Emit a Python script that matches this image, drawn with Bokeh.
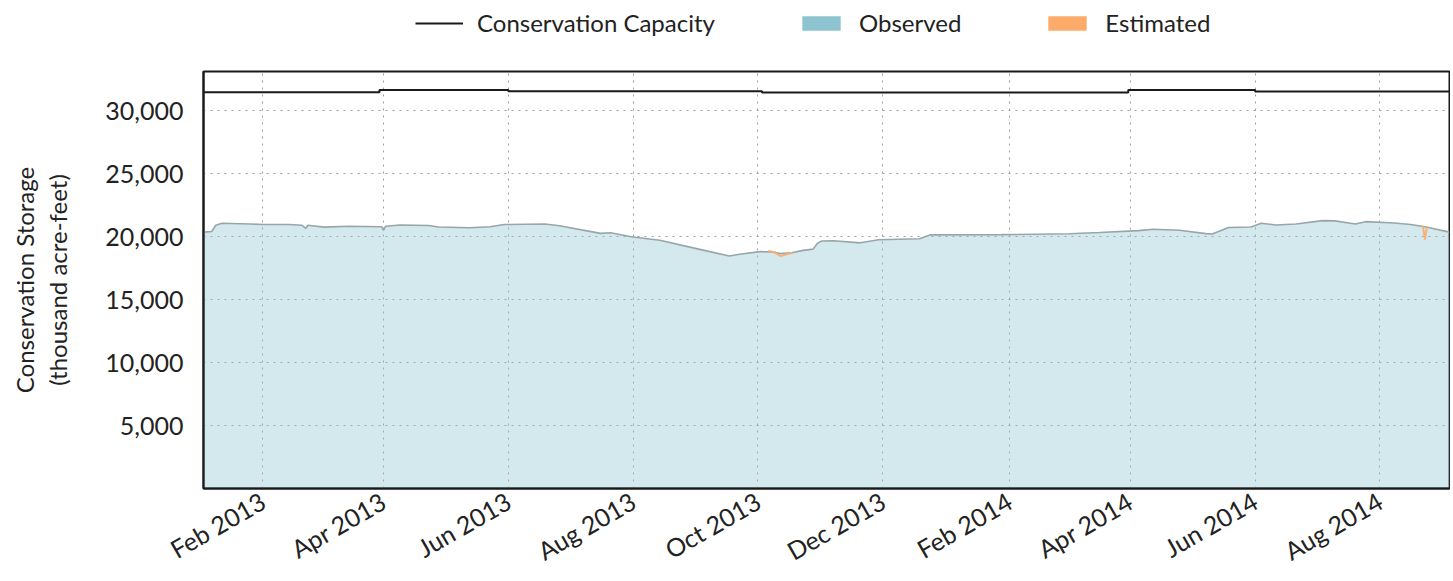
import pandas as pd
from bokeh.plotting import figure
from bokeh.layouts import column
from bokeh.models import (Range1d, FixedTicker, DatetimeTickFormatter, NumeralTickFormatter,
                          Legend, LegendItem, ColumnDataSource)
from bokeh.embed import file_html
from bokeh.resources import INLINE
from math import pi

# ---- data ----
obs_dates = ["2013-01-03", "2013-01-07", "2013-01-09", "2013-01-12", "2013-01-26", "2013-02-01",
             "2013-02-14", "2013-02-20", "2013-02-22", "2013-02-23", "2013-03-03", "2013-03-15",
             "2013-03-31", "2013-04-01", "2013-04-02", "2013-04-09", "2013-04-23", "2013-04-28",
             "2013-05-13", "2013-05-23", "2013-05-30", "2013-06-19", "2013-06-26", "2013-07-16",
             "2013-07-21", "2013-07-31", "2013-08-14", "2013-09-02", "2013-09-17", "2013-09-22",
             "2013-10-02", "2013-10-08", "2013-10-12", "2013-10-17", "2013-10-23", "2013-10-28",
             "2013-10-30", "2013-11-01", "2013-11-07", "2013-11-20", "2013-11-29", "2013-12-19",
             "2013-12-24", "2014-01-28", "2014-03-02", "2014-03-17", "2014-04-05", "2014-04-12",
             "2014-04-25", "2014-05-08", "2014-05-11", "2014-05-19", "2014-05-30", "2014-06-04",
             "2014-06-11", "2014-06-21", "2014-07-04", "2014-07-10", "2014-07-20", "2014-07-25",
             "2014-08-08", "2014-08-16", "2014-08-23", "2014-09-04"]
obs_values = [20350, 20400, 20900, 21050, 21000, 20950,
              20960, 20900, 20650, 20900, 20750, 20820,
              20780, 20500, 20820, 20920, 20880, 20760,
              20700, 20780, 20950, 21000, 20850, 20250,
              20300, 19980, 19700, 19000, 18450, 18600,
              18800, 18780, 18650, 18700, 18900, 19000,
              19450, 19640, 19660, 19500, 19740, 19830,
              20130, 20150, 20220, 20320, 20470, 20580,
              20500, 20230, 20200, 20720, 20760, 21050,
              20920, 21000, 21260, 21240, 21000, 21180,
              21080, 20950, 20780, 20350]

est_dates = ["2013-10-06", "2013-10-09", "2013-10-12", "2013-10-15", "2013-10-18",
             "2014-08-22", "2014-08-23", "2014-08-24"]
est_values = [18850, 18760, 18450, 18600, 18720,
              20850, 19750, 20800]
est_break_after = 4  # index after which the estimated series breaks

cap_dates = ["2013-01-03", "2013-03-30", "2013-06-01", "2013-10-03", "2014-03-31", "2014-06-01", "2014-09-04"]
cap_values = [31450, 31630, 31540, 31440, 31630, 31520, 31520]

x_tick_dates = ["2013-02-01", "2013-04-01", "2013-06-01", "2013-08-01", "2013-10-01", "2013-12-01",
                "2014-02-01", "2014-04-01", "2014-06-01", "2014-08-01"]
y_ticks = [5000, 10000, 15000, 20000, 25000, 30000]

x_start, x_end = "2013-01-03", "2014-09-04"
y_start, y_end = 0, 33100

y_label = "Conservation Storage\n(thousand acre-feet)"
legend_labels = ["Conservation Capacity", "Observed", "Estimated"]

FONT = "Lato"
CAP_COLOR, OBS_COLOR, EST_COLOR = "#1a1a1a", "#8ec4cf", "#fdab6b"

# ---- legend strip (separate figure above the chart) ----
lg = figure(width=1450, height=48, output_backend="svg", toolbar_location=None,
            x_axis_location=None, y_axis_location=None,
            x_range=Range1d(0, 1), y_range=Range1d(0, 1),
            min_border=0, outline_line_color=None)
lg.grid.visible = False
nan_src = ColumnDataSource(dict(x=[float("nan")], y=[float("nan")]))
r_cap = lg.line(x="x", y="y", source=nan_src, line_color=CAP_COLOR, line_width=2)
r_obs = lg.rect(x="x", y="y", width=1, height=1, source=nan_src, fill_color=OBS_COLOR, line_color=None)
r_est = lg.rect(x="x", y="y", width=1, height=1, source=nan_src, fill_color=EST_COLOR, line_color=None)
legend = Legend(items=[LegendItem(label=legend_labels[0], renderers=[r_cap]),
                       LegendItem(label=legend_labels[1], renderers=[r_obs]),
                       LegendItem(label=legend_labels[2], renderers=[r_est])],
                orientation="horizontal", location=(212, 11),
                glyph_width=48, glyph_height=18, label_standoff=14, spacing=82,
                padding=5, margin=0, border_line_color=None, background_fill_alpha=0,
                label_text_font=FONT, label_text_font_size="24px", label_text_color="#222222")
lg.add_layout(legend)

# ---- main chart ----
p = figure(width=1450, height=533, x_axis_type="datetime", output_backend="svg",
           toolbar_location=None,
           x_range=Range1d(pd.Timestamp(x_start), pd.Timestamp(x_end)),
           y_range=Range1d(y_start, y_end),
           min_border_left=203, min_border_right=1, min_border_top=23, min_border_bottom=89)

obs_src = ColumnDataSource(dict(x=pd.to_datetime(obs_dates), y=obs_values))
p.varea(x="x", y1=0, y2="y", source=obs_src, fill_color=OBS_COLOR, fill_alpha=0.38)
p.line(x="x", y="y", source=obs_src, line_color="#98a6a9", line_width=1.6)

est_x = list(pd.to_datetime(est_dates))
est_y = [float(v) for v in est_values]
est_x.insert(est_break_after + 1, est_x[est_break_after])
est_y.insert(est_break_after + 1, float("nan"))
p.line(x=est_x, y=est_y, line_color=EST_COLOR, line_width=2.0, line_alpha=0.9)

cap_src = ColumnDataSource(dict(x=pd.to_datetime(cap_dates), y=cap_values))
p.step(x="x", y="y", source=cap_src, mode="after", line_color=CAP_COLOR, line_width=2)

# axes
p.xaxis.ticker = FixedTicker(ticks=[pd.Timestamp(d).value / 1e6 for d in x_tick_dates])
p.xaxis.formatter = DatetimeTickFormatter(days="%b %Y", months="%b %Y", years="%b %Y")
p.xaxis.major_label_orientation = pi / 6
p.yaxis.ticker = FixedTicker(ticks=y_ticks)
p.yaxis.formatter = NumeralTickFormatter(format="0,0")

for ax in (p.xaxis, p.yaxis):
    ax.major_tick_line_color = None
    ax.minor_tick_line_color = None
    ax.major_tick_out = 0
    ax.major_tick_in = 0
    ax.minor_tick_out = 0
    ax.minor_tick_in = 0
    ax.major_label_text_font = FONT
    ax.major_label_text_font_size = "25px"
    ax.major_label_text_color = "#222222"
    ax.axis_line_color = CAP_COLOR
    ax.axis_line_width = 2
p.xaxis.major_label_standoff = 10
p.yaxis.major_label_standoff = 20

p.yaxis.axis_label = y_label
p.yaxis.axis_label_text_font = FONT
p.yaxis.axis_label_text_font_size = "24px"
p.yaxis.axis_label_text_font_style = "normal"
p.yaxis.axis_label_text_color = "#222222"
p.yaxis.axis_label_text_line_height = 1.15
p.yaxis.axis_label_standoff = 30

p.grid.grid_line_color = "#888888"
p.grid.grid_line_dash = "2 5"
p.grid.grid_line_alpha = 0.8
p.xgrid.ticker = p.xaxis.ticker
p.ygrid.ticker = p.yaxis.ticker

p.outline_line_color = CAP_COLOR
p.outline_line_width = 2
p.outline_line_alpha = 1

layout = column(lg, p, spacing=0)
open("out.html", "w").write(file_html(layout, INLINE))
